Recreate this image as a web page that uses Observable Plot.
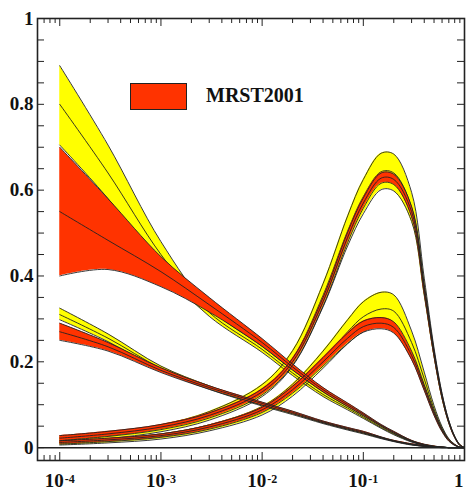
<!DOCTYPE html>
<html>
<head>
<meta charset="utf-8">
<script src="https://cdn.jsdelivr.net/npm/d3@7"></script>
<script src="https://cdn.jsdelivr.net/npm/@observablehq/plot@0.6"></script>
<style>
  body { margin: 0; background: #fff; }
  #wrap { position: relative; width: 467px; height: 491px; }
  #legend-box { position: absolute; left: 130px; top: 83px; width: 57px; height: 27px;
    background: #ff3300; border: 1px solid #222; box-sizing: border-box; }
  #legend-text { position: absolute; left: 206px; top: 85px; font: bold 20px/20px "Liberation Serif", serif; color: #111; }
</style>
</head>
<body>
<div id="wrap">
  <div id="chart"></div>
  <div id="legend-box"></div>
  <div id="legend-text">MRST2001</div>
</div>
<script>
// Momentum fractions x
const xs = [1e-4, 3e-4, 1e-3, 3e-3, 0.01, 0.02, 0.04, 0.07, 0.1, 0.15, 0.2, 0.3, 0.4, 0.5, 0.6, 0.7, 0.8, 0.9, 1];

// MRST2001 (red) bands: lower edge, central value, upper edge
const mrstUvLo = [0.016,0.026,0.042,0.069,0.123,0.192,0.330,0.478,0.558,0.616,0.613,0.538,0.360,0.213,0.115,0.057,0.023,0.005,0];
const mrstUv   = [0.022,0.032,0.048,0.075,0.130,0.200,0.340,0.490,0.570,0.628,0.625,0.550,0.370,0.220,0.120,0.060,0.025,0.006,0];
const mrstUvHi = [0.028,0.038,0.054,0.081,0.137,0.208,0.350,0.502,0.582,0.640,0.637,0.562,0.380,0.227,0.125,0.063,0.027,0.007,0];

const mrstDvLo = [0.008,0.014,0.024,0.043,0.082,0.127,0.190,0.243,0.269,0.277,0.267,0.205,0.133,0.075,0.037,0.015,0.005,0.001,0];
const mrstDv   = [0.012,0.018,0.028,0.048,0.088,0.135,0.200,0.255,0.282,0.290,0.280,0.215,0.140,0.080,0.040,0.017,0.006,0.001,0];
const mrstDvHi = [0.016,0.022,0.032,0.053,0.094,0.143,0.210,0.267,0.295,0.303,0.293,0.225,0.147,0.085,0.043,0.019,0.007,0.001,0];

const mrstGLo  = [0.400,0.415,0.375,0.316,0.236,0.181,0.130,0.096,0.075,0.050,0.034,0.015,0.006,0.002,0.001,0,0,0,0];
const mrstG    = [0.550,0.483,0.410,0.333,0.245,0.188,0.135,0.100,0.078,0.052,0.036,0.016,0.007,0.003,0.001,0,0,0,0];
const mrstGHi  = [0.700,0.580,0.445,0.350,0.254,0.195,0.140,0.104,0.081,0.054,0.038,0.017,0.008,0.004,0.001,0,0,0,0];

const mrstSLo  = [0.250,0.225,0.175,0.136,0.099,0.079,0.058,0.043,0.034,0.023,0.015,0.007,0.003,0.001,0,0,0,0,0];
const mrstS    = [0.270,0.235,0.180,0.140,0.103,0.082,0.060,0.045,0.036,0.024,0.016,0.008,0.004,0.002,0.001,0,0,0,0];
const mrstSHi  = [0.290,0.245,0.186,0.144,0.106,0.085,0.062,0.047,0.038,0.025,0.017,0.009,0.005,0.002,0.001,0,0,0,0];

// Comparison set (yellow) bands
const altUvLo = [0.012,0.021,0.037,0.064,0.119,0.190,0.328,0.470,0.545,0.601,0.598,0.527,0.355,0.212,0.114,0.057,0.024,0.005,0];
const altUv   = [0.018,0.028,0.045,0.074,0.133,0.208,0.355,0.505,0.585,0.643,0.640,0.560,0.375,0.222,0.120,0.060,0.025,0.006,0];
const altUvHi = [0.024,0.035,0.053,0.084,0.147,0.226,0.382,0.540,0.625,0.686,0.684,0.595,0.395,0.232,0.126,0.063,0.026,0.007,0];

const altDvLo = [0.006,0.011,0.020,0.039,0.076,0.120,0.185,0.242,0.270,0.284,0.280,0.218,0.144,0.082,0.041,0.017,0.006,0.001,0];
const altDv   = [0.010,0.016,0.026,0.046,0.086,0.134,0.205,0.270,0.305,0.323,0.318,0.245,0.160,0.090,0.045,0.019,0.007,0.001,0];
const altDvHi = [0.014,0.021,0.032,0.053,0.096,0.148,0.225,0.298,0.340,0.362,0.356,0.272,0.176,0.098,0.049,0.021,0.008,0.001,0];

const altGLo  = [0.705,0.580,0.420,0.306,0.222,0.168,0.119,0.088,0.068,0.045,0.030,0.013,0.005,0.002,0.001,0,0,0,0];
const altG    = [0.800,0.640,0.450,0.315,0.229,0.174,0.124,0.092,0.071,0.047,0.032,0.014,0.006,0.002,0.001,0,0,0,0];
const altGHi  = [0.890,0.705,0.480,0.326,0.236,0.181,0.130,0.096,0.074,0.050,0.034,0.015,0.007,0.003,0.001,0,0,0,0];

const altSLo  = [0.298,0.247,0.180,0.136,0.097,0.077,0.056,0.041,0.032,0.021,0.014,0.006,0.003,0.001,0,0,0,0,0];
const altS    = [0.310,0.255,0.185,0.140,0.100,0.080,0.058,0.043,0.034,0.022,0.015,0.007,0.003,0.001,0,0,0,0,0];
const altSHi  = [0.325,0.265,0.190,0.144,0.103,0.082,0.060,0.045,0.036,0.024,0.016,0.008,0.004,0.002,0.001,0,0,0,0];

// Axis ticks and labels
const xMajor = [1e-4, 1e-3, 1e-2, 1e-1];
const xExp = ["-4", "-3", "-2", "-1"];
const xEnd = [1];
const yMajor = [0, 0.2, 0.4, 0.6, 0.8, 1];
const yLabels = ["0", "0.2", "0.4", "0.6", "0.8", "1"];

const xMin = Math.pow(10, -4.22);
const xMinor = [];
for (let e = -5; e <= -1; e++) for (let k = 2; k <= 9; k++) {
  const v = k * Math.pow(10, e);
  if (v > xMin && v < 1) xMinor.push(v);
}
const yMinor = d3.range(0, 1.0001, 0.05).map(v => +v.toFixed(2));

function band(name, lo, mid, hi) {
  return xs.map((x, i) => ({name, x, lo: lo[i], mid: mid[i], hi: hi[i]}));
}
const altRows = [
  ...band("uv", altUvLo, altUv, altUvHi),
  ...band("dv", altDvLo, altDv, altDvHi),
  ...band("g", altGLo, altG, altGHi),
  ...band("s", altSLo, altS, altSHi)
];
const mrstRows = [
  ...band("uv", mrstUvLo, mrstUv, mrstUvHi),
  ...band("dv", mrstDvLo, mrstDv, mrstDvHi),
  ...band("g", mrstGLo, mrstG, mrstGHi),
  ...band("s", mrstSLo, mrstS, mrstSHi)
];

const W = 467, H = 491, ML = 37, MR = 3, MT = 18, MB = 31;
const innerW = W - ML - MR, innerH = H - MT - MB;
const curve = "catmull-rom";
const edge = "#222";
const font = {fontFamily: "Liberation Serif, serif", fontWeight: "bold", fill: "#111"};

function bandMarks(rows, color) {
  return [
    Plot.areaY(rows, {x: "x", y1: "lo", y2: "hi", z: "name", fill: color, curve}),
    Plot.line(rows, {x: "x", y: "lo", z: "name", stroke: edge, strokeWidth: 0.9, curve}),
    Plot.line(rows, {x: "x", y: "hi", z: "name", stroke: edge, strokeWidth: 0.9, curve}),
    Plot.line(rows, {x: "x", y: "mid", z: "name", stroke: edge, strokeWidth: 0.9, curve})
  ];
}

const chart = Plot.plot({
  width: W, height: H,
  marginLeft: ML, marginRight: MR, marginTop: MT, marginBottom: MB,
  x: {type: "log", domain: [xMin, 1], axis: null},
  y: {domain: [-0.03, 1], axis: null},
  style: {background: "#fff"},
  marks: [
    ...bandMarks(altRows, "#ffff00"),
    ...bandMarks(mrstRows, "#ff3300"),
    Plot.ruleY([0], {stroke: edge, strokeWidth: 1.5}),
    // ticks on all four sides, pointing inward
    Plot.tickX(xMajor, {x: d => d, insetTop: innerH - 8, stroke: edge}),
    Plot.tickX(xMinor, {x: d => d, insetTop: innerH - 5, stroke: edge}),
    Plot.tickX(xMajor, {x: d => d, insetBottom: innerH - 8, stroke: edge}),
    Plot.tickX(xMinor, {x: d => d, insetBottom: innerH - 5, stroke: edge}),
    Plot.tickY(yMinor, {y: d => d, insetRight: innerW - 7, stroke: edge}),
    Plot.tickY(yMinor, {y: d => d, insetLeft: innerW - 7, stroke: edge}),
    Plot.frame({stroke: edge, strokeWidth: 1.6}),
    // tick labels
    Plot.text(yMajor, {y: d => d, text: (d, i) => yLabels[i], frameAnchor: "left", textAnchor: "end", dx: -4, fontSize: 19, ...font}),
    Plot.text(xMajor, {x: d => d, text: () => "10", frameAnchor: "bottom", textAnchor: "end", dx: 4, dy: 26, fontSize: 19, ...font}),
    Plot.text(xMajor, {x: d => d, text: (d, i) => xExp[i], frameAnchor: "bottom", textAnchor: "start", dx: 5, dy: 22, fontSize: 12, ...font}),
    Plot.text(xEnd, {x: d => d, text: () => "1", frameAnchor: "bottom", textAnchor: "end", dx: -1, dy: 26, fontSize: 19, ...font})
  ]
});
document.getElementById("chart").appendChild(chart);
</script>
</body>
</html>
